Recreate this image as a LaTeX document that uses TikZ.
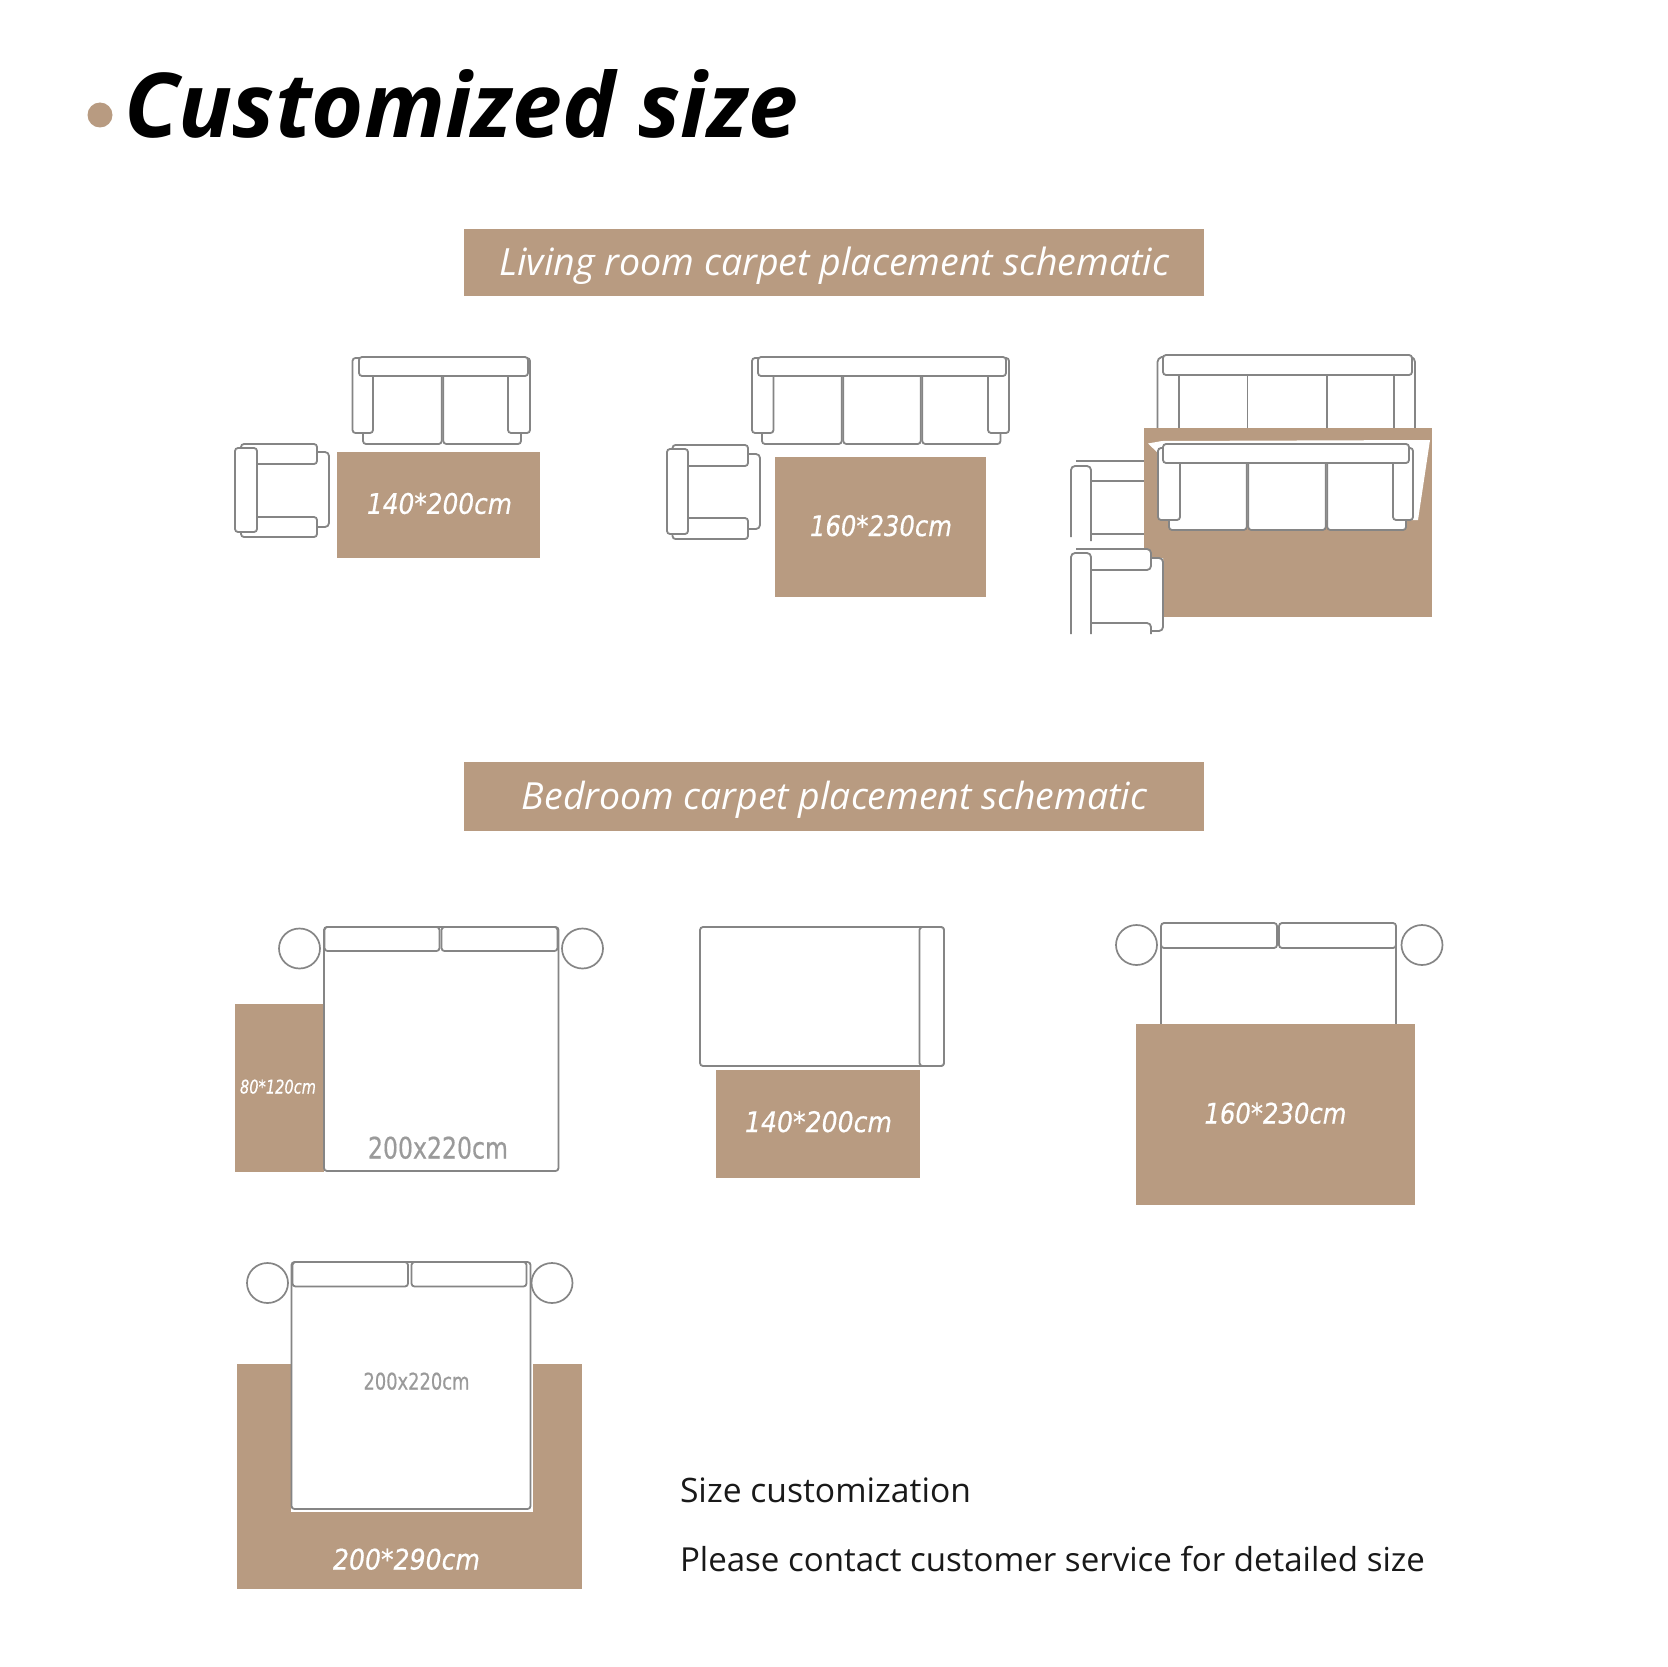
\documentclass[tikz,border=0pt]{standalone}
\usepackage{fontspec}
\setmainfont{Open Sans}
\newfontfamily\lblfont[FakeBold=0.5]{DejaVu Sans}
\definecolor{rug}{HTML}{B89B81}
\definecolor{ln}{HTML}{858585}
\definecolor{lbl}{HTML}{9A9A9A}
\newcommand{\fitw}[2]{\resizebox{#1pt}{!}{\fontsize{40}{48}\selectfont #2}}
\newcommand{\fitwh}[3]{\resizebox{#1pt}{#2pt}{\fontsize{40}{48}\selectfont\lblfont #3}}
\newcommand{\fitgray}[3]{\resizebox{#1pt}{#2pt}{\fontsize{40}{48}\selectfont #3}}
\tikzset{
  x=1pt,y=-1pt,
  txt/.style={inner sep=0pt,outer sep=0pt,anchor=base},
  txtl/.style={inner sep=0pt,outer sep=0pt,anchor=base west},
  rugbox/.style={fill=rug,draw=none},
  banner/.style={fill=rug,draw=none},
  part/.style={draw=ln,line width=1.8pt,fill=white,rounded corners=3pt},
  seam/.style={draw=ln,line width=1.8pt},
  curve/.style={draw=ln,line width=1.8pt,rounded corners=4pt},
  lamp/.style={draw=ln,line width=1.7pt,fill=white},
  rugtext/.style={txt,text=white},
}
\begin{document}
\begin{tikzpicture}
\useasboundingbox[fill=white] (0,0) rectangle (1668,1667);
% title
\fill[rug] (100,115) circle (12.5);
\node[txtl] (title) at (124,138) {\fitw{674}{\bfseries\itshape Customized size}};
% banners
\fill[banner] (464,229) rectangle (1204,296);
\node[rugtext] (b1) at (834.5,275) {\fitw{670}{\itshape Living room carpet placement schematic}};
\fill[banner] (464,762) rectangle (1204,831);
\node[rugtext] (b2) at (834.5,809) {\fitw{625}{\itshape Bedroom carpet placement schematic}};

% ---- living 1
\path[part] (363,370) rectangle (441.7,444);
\path[part] (443.3,370) rectangle (521,444);
\path[part] (352.5,358) rectangle (373,433);
\path[part] (508,358) rectangle (530,433);
\path[part] (359,357) rectangle (528,376);
\draw[curve] (305,452) -- (329,452) -- (329,527) -- (305,527);
\path[part] (241,444) rectangle (317,464);
\path[part] (241,517) rectangle (317,537);
\path[part] (235,448) rectangle (257,532);
\fill[rugbox] (337,451.5) rectangle (540,558);
\node[rugtext] (t1) at (439.5,513.8) {\fitwh{145}{21}{\itshape 140*200cm}};

% ---- living 2
\path[part] (762,370) rectangle (841.7,444);
\path[part] (843.3,370) rectangle (920.7,444);
\path[part] (922.3,370) rectangle (1000.5,444);
\path[part] (752,358) rectangle (773.5,433);
\path[part] (988,358) rectangle (1009,433);
\path[part] (758,357) rectangle (1006,376);
\draw[curve] (735,454) -- (760,454) -- (760,529) -- (735,529);
\path[part] (672.5,445) rectangle (748,466);
\path[part] (672.5,518) rectangle (748,539);
\path[part] (667,449) rectangle (688,534);
\fill[rugbox] (774.5,457) rectangle (986,597);
\node[rugtext] (t2) at (881,536) {\fitwh{142}{21}{\itshape 160*230cm}};

% ---- living 3: upper sofa, cut by the rug
\draw[curve] (1157.5,430) -- (1157.5,358) -- (1170,355);
\draw[curve] (1415,430) -- (1415,358) -- (1405,355);
\draw[seam] (1179,375) -- (1179,430) (1247.5,375) -- (1247.5,430) (1327,375) -- (1327,430) (1394,375) -- (1394,430);
\path[part] (1163,355) rectangle (1412,375);
% upper armchair
\draw[curve] (1071,537) -- (1071,466) -- (1091,466) -- (1091,541);
\draw[seam] (1076,461) -- (1146,461) (1091,481) -- (1146,481) (1091,534) -- (1146,534);
% rug
\fill[rugbox] (1144,428) rectangle (1432,617);
% white shape under lower sofa
\fill[white] (1148,443.5) -- (1162,441) -- (1430,440) -- (1418,520) -- (1165,520) -- (1158,453) -- cycle;
% lower sofa
\path[part] (1169,455) rectangle (1246.7,530);
\path[part] (1248.3,455) rectangle (1325.7,530);
\path[part] (1327.3,455) rectangle (1406,530);
\path[part] (1158,448) rectangle (1180,520);
\path[part] (1393,448) rectangle (1413,520);
\path[part] (1163,444) rectangle (1409,463);
% lower armchair, over the corner of the rug
\fill[white] (1144,548) -- (1151,552) -- (1151,558) -- (1163,558) -- (1163,636) -- (1091,636) -- (1091,548) -- cycle;
\draw[curve] (1071,634) -- (1071,553) -- (1091,553) -- (1091,634);
\draw[curve] (1076,549) -- (1151,549) -- (1151,570) -- (1091,570);
\draw[curve] (1151,558) -- (1163,558) -- (1163,631) -- (1151,631);
\draw[curve] (1091,623) -- (1151,623) -- (1151,634);

% ---- bedroom 1
\fill[rugbox] (235,1004) rectangle (323.5,1171.5);
\path[part] (324,927) rectangle (558.5,1171);
\path[part] (324.5,927) rectangle (439.5,951);
\path[part] (441.5,927) rectangle (557.5,951);
\draw[lamp] (299.5,948.5) ellipse [x radius=20.5,y radius=20];
\draw[lamp] (582.5,948.5) ellipse [x radius=20.5,y radius=20];
\node[txt,text=white] (t3) at (278,1093.5) {\fitwh{76}{14}{\itshape 80*120cm}};
\node[txt,text=lbl] (bl1) at (438,1158.5) {\fitgray{140}{22}{\lblfont 200x220cm}};

% ---- bedroom 2
\path[part] (700,927) rectangle (944,1066);
\path[part] (919.5,927) rectangle (944,1066);
\fill[rugbox] (716,1070) rectangle (919.5,1178);
\node[rugtext] (t4) at (818.5,1132) {\fitwh{147}{21}{\itshape 140*200cm}};

% ---- bedroom 3
\draw[lamp] (1136.5,945) ellipse [x radius=20.5,y radius=20];
\draw[lamp] (1422,945) ellipse [x radius=20.5,y radius=20];
\draw[seam] (1161,940) -- (1161,1030) (1396,940) -- (1396,1030);
\path[part] (1161,923) rectangle (1277,948);
\path[part] (1279,923) rectangle (1396,948);
\fill[rugbox] (1136,1023.5) rectangle (1415,1205);
\node[rugtext] (t5) at (1275.5,1123.5) {\fitwh{142}{21}{\itshape 160*230cm}};

% ---- bedroom 4
\fill[rugbox] (236.5,1364) rectangle (581.5,1589);
\fill[white] (290.5,1360) rectangle (532.5,1511.5);
\path[part] (291.5,1262) rectangle (530.5,1509);
\path[part] (292.5,1262) rectangle (408,1286.5);
\path[part] (411.5,1262) rectangle (526.5,1286.5);
\draw[lamp] (267.5,1283) ellipse [x radius=20.5,y radius=20];
\draw[lamp] (552,1283) ellipse [x radius=20.5,y radius=20];
\node[txt,text=lbl] (bl2) at (416.5,1389.5) {\fitgray{106}{17}{\lblfont 200x220cm}};
\node[rugtext] (t6) at (406.5,1569.5) {\fitwh{147}{21}{\itshape 200*290cm}};

% notes
\node[txtl,text=black!90] (n1) at (680,1502) {\fitw{291}{Size customization}};
\node[txtl,text=black!90] (n2) at (680,1571) {\fitw{745}{Please contact customer service for detailed size}};
\end{tikzpicture}
\end{document}
